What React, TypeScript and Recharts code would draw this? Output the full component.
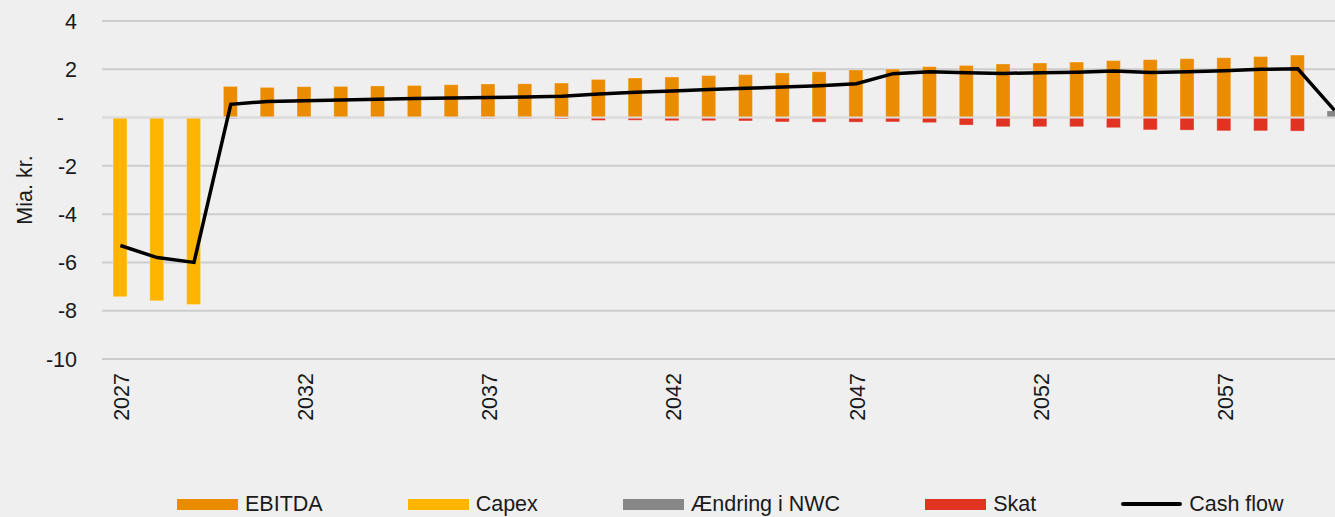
import React from "react";
import {
    ComposedChart,
    Bar,
    Line,
    XAxis,
    YAxis,
    CartesianGrid,
    ReferenceLine,
} from "recharts";

const years = [
    "2027", "2028", "2029", "2030", "2031", "2032", "2033", "2034", "2035", "2036",
    "2037", "2038", "2039", "2040", "2041", "2042", "2043", "2044", "2045", "2046",
    "2047", "2048", "2049", "2050", "2051", "2052", "2053", "2054", "2055", "2056",
    "2057", "2058", "2059", "2060",
];

const ebitda = [
    0, 0, 0, 1.29, 1.25, 1.28, 1.29, 1.31, 1.33, 1.36,
    1.39, 1.4, 1.43, 1.58, 1.64, 1.68, 1.74, 1.78, 1.85, 1.9,
    1.97, 2.01, 2.11, 2.16, 2.22, 2.26, 2.3, 2.36, 2.4, 2.44,
    2.48, 2.53, 2.59, 0,
];

const capex = [
    -7.42, -7.59, -7.74, 0, 0, 0, 0, 0, 0, 0,
    0, 0, 0, 0, 0, 0, 0, 0, 0, 0,
    0, 0, 0, 0, 0, 0, 0, 0, 0, 0,
    0, 0, 0, 0,
];

const nwc = [
    0, 0, 0, -0.04, 0, 0, 0, 0, 0, 0,
    0, 0, 0, 0, 0, 0, 0, 0, 0, 0,
    0, 0, 0, 0, 0, 0, 0, 0, 0, 0,
    0, 0, 0, 0.27,
];

const skat = [
    0, 0, 0, 0, 0, 0, 0, 0, 0, 0,
    -0.04, -0.04, -0.06, -0.12, -0.11, -0.13, -0.13, -0.14, -0.18, -0.19,
    -0.19, -0.18, -0.21, -0.31, -0.38, -0.38, -0.38, -0.42, -0.51, -0.52,
    -0.55, -0.55, -0.56, 0,
];

const cashFlow = [
    -5.3, -5.8, -6.0, 0.55, 0.67, 0.7, 0.73, 0.76, 0.79, 0.81,
    0.83, 0.85, 0.88, 0.98, 1.05, 1.1, 1.16, 1.21, 1.27, 1.32,
    1.4, 1.82, 1.9, 1.86, 1.83, 1.86, 1.88, 1.93, 1.87, 1.9,
    1.94, 2.0, 2.02, 0.3,
];

const yTicks = [-10, -8, -6, -4, -2, 0, 2, 4];

const data = years.map((year, i) => ({
    year,
    ebitda: ebitda[i],
    capex: capex[i],
    nwc: nwc[i],
    skat: skat[i],
    cashFlow: cashFlow[i],
}));

const FONT = "'Liberation Sans', Arial, sans-serif";
const FS = 21.5;
const TEXT = "#1a1a1a";

const legendItems = [
    { name: "EBITDA", color: "#EA8B00", line: false },
    { name: "Capex", color: "#FFB400", line: false },
    { name: "Ændring i NWC", color: "#878787", line: false },
    { name: "Skat", color: "#E03322", line: false },
    { name: "Cash flow", color: "#000000", line: true },
];

const YTick = (props: any) => {
    const { x, y, payload } = props;
    const zero = payload.value === 0;
    return (
        <text
            x={zero ? x - 13 : x}
            y={y}
            dy="0.36em"
            textAnchor="end"
            fontSize={FS}
            fontFamily={FONT}
            fill={TEXT}
        >
            {zero ? "-" : payload.value}
        </text>
    );
};

const XTick = (props: any) => {
    const { x, y, payload } = props;
    return (
        <text
            x={x}
            y={y}
            dy={9}
            transform={`rotate(-90, ${x}, ${y})`}
            textAnchor="end"
            fontSize={FS}
            fontFamily={FONT}
            fill={TEXT}
        >
            {payload.value}
        </text>
    );
};

export default function App() {
    return (
        <div
            style={{
                position: "absolute",
                left: 0,
                top: 0,
                width: 1335,
                height: 517,
                overflow: "hidden",
                background: "#efefef",
                fontFamily: FONT,
            }}
        >
            <ComposedChart
                width={1380}
                height={517}
                data={data}
                stackOffset="sign"
                margin={{ top: 21, right: 27, left: 0, bottom: 98 }}
            >
                <CartesianGrid vertical={false} stroke="#cdcdcd" strokeWidth={2} />
                <XAxis
                    dataKey="year"
                    interval={4}
                    height={60}
                    axisLine={false}
                    tickLine={false}
                    tickSize={0}
                    tickMargin={14}
                    tick={<XTick />}
                />
                <YAxis
                    domain={[-10, 4]}
                    ticks={yTicks}
                    interval={0}
                    width={102}
                    axisLine={false}
                    tickLine={false}
                    tickSize={0}
                    tickMargin={25}
                    tick={<YTick />}
                    label={{
                        value: "Mia. kr.",
                        angle: -90,
                        position: "insideLeft",
                        offset: 24,
                        style: { textAnchor: "middle", fontSize: FS, fontFamily: FONT, fill: TEXT },
                    }}
                />
                <Bar dataKey="ebitda" name="EBITDA" stackId="a" fill="#EA8B00" stroke="rgba(255,255,255,0.3)" barSize={14} isAnimationActive={false} />
                <Bar dataKey="capex" name="Capex" stackId="a" fill="#FFB400" stroke="rgba(255,255,255,0.3)" barSize={14} isAnimationActive={false} />
                <Bar dataKey="nwc" name="Ændring i NWC" stackId="a" fill="#878787" barSize={14} isAnimationActive={false} />
                <Bar dataKey="skat" name="Skat" stackId="a" fill="#E03322" stroke="rgba(255,255,255,0.3)" barSize={14} isAnimationActive={false} />
                <ReferenceLine y={0} stroke="#dedede" strokeWidth={2} />
                <Line
                    type="linear"
                    dataKey="cashFlow"
                    name="Cash flow"
                    stroke="#000000"
                    strokeWidth={3.5}
                    dot={false}
                    activeDot={false}
                    isAnimationActive={false}
                />
            </ComposedChart>
            <div
                style={{
                    position: "absolute",
                    left: 177,
                    top: 489,
                    height: 30,
                    display: "flex",
                    alignItems: "center",
                    gap: 85,
                    fontSize: FS,
                    color: TEXT,
                    whiteSpace: "nowrap",
                }}
            >
                {legendItems.map((item) => (
                    <div key={item.name} style={{ display: "flex", alignItems: "center", gap: 7 }}>
                        <span
                            style={{
                                display: "inline-block",
                                width: 61,
                                height: item.line ? 4 : 11,
                                borderRadius: item.line ? 2 : 0,
                                background: item.color,
                            }}
                        />
                        <span>{item.name}</span>
                    </div>
                ))}
            </div>
        </div>
    );
}
